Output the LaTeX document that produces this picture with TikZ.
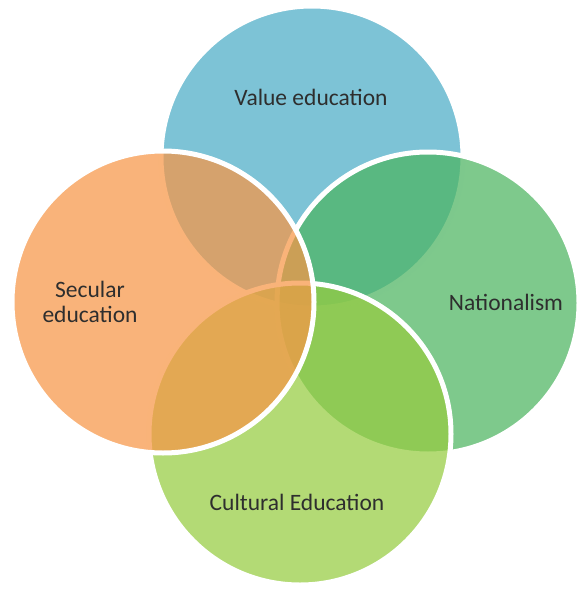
\documentclass[tikz,border=0pt]{standalone}
\usepackage{fontspec}
\setmainfont{Carlito}
\definecolor{cblue}{RGB}{75,172,198}
\definecolor{cgreen}{RGB}{76,180,96}
\definecolor{clime}{RGB}{150,204,64}
\definecolor{corange}{RGB}{247,150,70}
\tikzset{
  venn/.style={circle, minimum size=302pt, inner sep=0pt, draw=white, line width=5pt, fill opacity=0.72},
  lbl/.style={font=\fontsize{23.5}{25}\selectfont, text=black!82, align=center}
}
\begin{document}
\begin{tikzpicture}[x=1pt,y=-1pt]
\useasboundingbox (0,0) rectangle (577,589);
\node[venn, fill=cblue] (value) at (312,157) {};
\node[venn, fill=cgreen] (nat) at (428,303) {};
\node[venn, fill=clime] (cult) at (300,434) {};
\node[venn, fill=corange] (sec) at (163,302) {};
\node[lbl] (tvalue) at (311,97) {Value education};
\node[lbl] (tnat) at (506,302) {Nationalism};
\node[lbl] (tsec) at (90,302) {Secular\\education};
\node[lbl] (tcult) at (297,502) {Cultural Education};
\end{tikzpicture}
\end{document}
